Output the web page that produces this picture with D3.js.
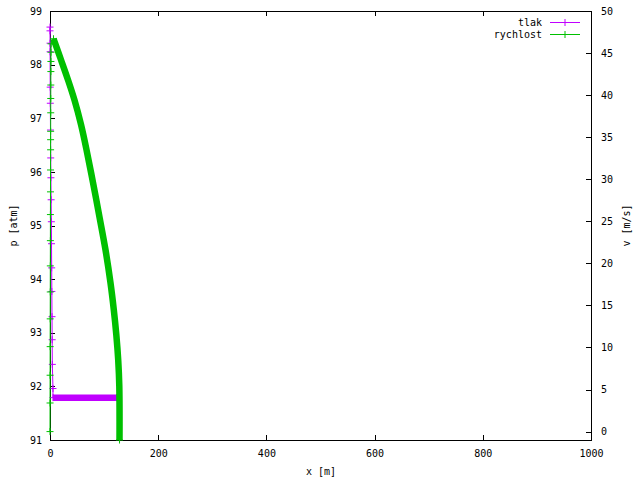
<!DOCTYPE html>
<html><head><meta charset="utf-8">
<script src="https://cdn.jsdelivr.net/npm/d3@7"></script>
<style>
body{margin:0;background:#fff;}
svg{display:block;}
text{font-family:"DejaVu Sans Mono","Liberation Mono",monospace;font-size:10px;fill:#000;}
</style></head>
<body>
<script>
// ---- data ----
const xTicks = [0, 200, 400, 600, 800, 1000];
const yTicks = [91, 92, 93, 94, 95, 96, 97, 98, 99];
const y2Ticks = [0, 5, 10, 15, 20, 25, 30, 35, 40, 45, 50];

// tlak (pressure, atm) - sparse phase near x=0
const tlakX = [0, 0, 0.1, 0.2, 0.4, 0.6, 0.9, 1.3, 1.7, 2.1, 2.5, 2.8, 3.1, 3.4, 3.7, 4.0, 4.3, 5.5];
const tlakP = [98.70, 98.63, 98.40, 98.24, 97.58, 97.28, 96.78, 96.26, 95.89, 95.48, 95.07, 94.66, 94.21, 93.77, 93.30, 92.87, 92.41, 91.96];
// tlak - dense phase (many points, constant pressure)
const tlakDenseX = [5.5, 123];
const tlakDenseP = [91.79, 91.79];

// rychlost (velocity, m/s) - sparse phase near x=0
const rychX = [0, 0.1, 0.2, 0.3, 0.4, 0.5, 0.6, 0.7, 0.8, 0.9, 1.0, 1.1, 1.1, 1.2, 1.3, 1.4, 1.5, 1.6, 1.7, 1.8, 2.0];
const rychV = [0.0, 3.4, 6.7, 10.1, 13.4, 16.6, 19.7, 22.7, 25.8, 28.5, 31.1, 33.5, 34.7, 35.7, 37.9, 39.6, 41.2, 42.8, 44.0, 45.1, 46.1];
// rychlost - dense phase
const rychDenseX = [6.5, 20.3, 33.3, 45.3, 57.3, 67.5, 79.5, 91.5, 102.6, 111.8, 117.9, 122.6, 126.1, 128.1, 128.5];
const rychDenseV = [46.7, 44.2, 41.8, 39.4, 36.5, 33.5, 29.6, 25.5, 21.6, 17.7, 14.5, 11.5, 8.5, 5.4, -1.0];

const seriesNames = ["tlak", "rychlost"];
const colors = ["#c000ff", "#00c000"];

// ---- layout ----
const W = 640, H = 480;
const L = 50, R = 591, T = 11, B = 440;

const svg = d3.select("body").append("svg").attr("width", W).attr("height", H);
const x = d3.scaleLinear().domain([0, 1000]).range([L, R]);
const y = d3.scaleLinear().domain([91, 99]).range([B, T]);
const y2 = d3.scaleLinear().domain([-1, 50]).range([B, T]);

const tickLen = 5;
const gx = svg.append("g").attr("transform", `translate(0,${B})`)
  .call(d3.axisBottom(x).tickValues(xTicks).tickSize(-tickLen).tickPadding(10).tickFormat(d3.format("d")));
const gxt = svg.append("g").attr("transform", `translate(0,${T})`)
  .call(d3.axisTop(x).tickValues(xTicks).tickSize(-tickLen).tickFormat(""));
const gy = svg.append("g").attr("transform", `translate(${L},0)`)
  .call(d3.axisLeft(y).tickValues(yTicks).tickSize(-tickLen).tickPadding(8).tickFormat(d3.format("d")));
const gy2 = svg.append("g").attr("transform", `translate(${R},0)`)
  .call(d3.axisRight(y2).tickValues(y2Ticks).tickSize(-tickLen).tickPadding(10).tickFormat(d3.format("d")));

[gx, gxt, gy, gy2].forEach(g => {
  g.select(".domain").remove();
  g.selectAll("line").attr("stroke", "#000").attr("shape-rendering", "crispEdges");
  g.selectAll("text").attr("font-family", '"DejaVu Sans Mono",monospace').attr("font-size", 10).attr("fill", "#000");
});

svg.append("rect").attr("x", L).attr("y", T).attr("width", R - L).attr("height", B - T)
  .attr("fill", "none").attr("stroke", "#000").attr("shape-rendering", "crispEdges");

svg.append("text").attr("x", (L + R) / 2 + 0.5).attr("y", 475).attr("text-anchor", "middle").text("x [m]");
svg.append("text").attr("transform", `translate(17,${(T + B) / 2}) rotate(-90)`).attr("text-anchor", "middle").text("p [atm]");
svg.append("text").attr("transform", `translate(630,${(T + B) / 2}) rotate(-90)`).attr("text-anchor", "middle").text("v [m/s]");

// ---- series ----
const plot = svg.append("g");
function plus(g, px, py, color) {
  g.append("path").attr("d", `M${px - 3.5},${py}H${px + 3.5}M${px},${py - 3.5}V${py + 3.5}`)
    .attr("stroke", color).attr("stroke-width", 1).attr("fill", "none");
}
function drawSeries(xs, ys, dxs, dys, ysc, color) {
  const g = plot.append("g");
  const pts = xs.map((v, i) => [x(v), ysc(ys[i])]);
  const dpts = dxs.map((v, i) => [x(v), ysc(dys[i])]);
  g.append("path").attr("d", d3.line()(pts.concat([dpts[0]])))
    .attr("fill", "none").attr("stroke", color).attr("stroke-width", 1);
  // dense phase: markers packed so tightly they form a solid band
  g.append("path").attr("d", d3.line().curve(d3.curveCatmullRom)(dpts))
    .attr("fill", "none").attr("stroke", color).attr("stroke-width", 6.5)
    .attr("stroke-linejoin", "round");
  pts.forEach(p => plus(g, p[0], p[1], color));
  plus(g, dpts[0][0], dpts[0][1], color);
  plus(g, dpts[dpts.length - 1][0], dpts[dpts.length - 1][1], color);
}
drawSeries(tlakX, tlakP, tlakDenseX, tlakDenseP, y, colors[0]);
drawSeries(rychX, rychV, rychDenseX, rychDenseV, y2, colors[1]);

// ---- legend ----
const leg = svg.append("g");
seriesNames.forEach((name, i) => {
  const ly = 22.5 + i * 12;
  leg.append("text").attr("x", 542).attr("y", ly).attr("dy", "0.35em").attr("text-anchor", "end").text(name);
  leg.append("line").attr("x1", 550).attr("x2", 580).attr("y1", ly).attr("y2", ly)
    .attr("stroke", colors[i]).attr("stroke-width", 1);
  plus(leg, 565, ly, colors[i]);
});
</script>
</body></html>
